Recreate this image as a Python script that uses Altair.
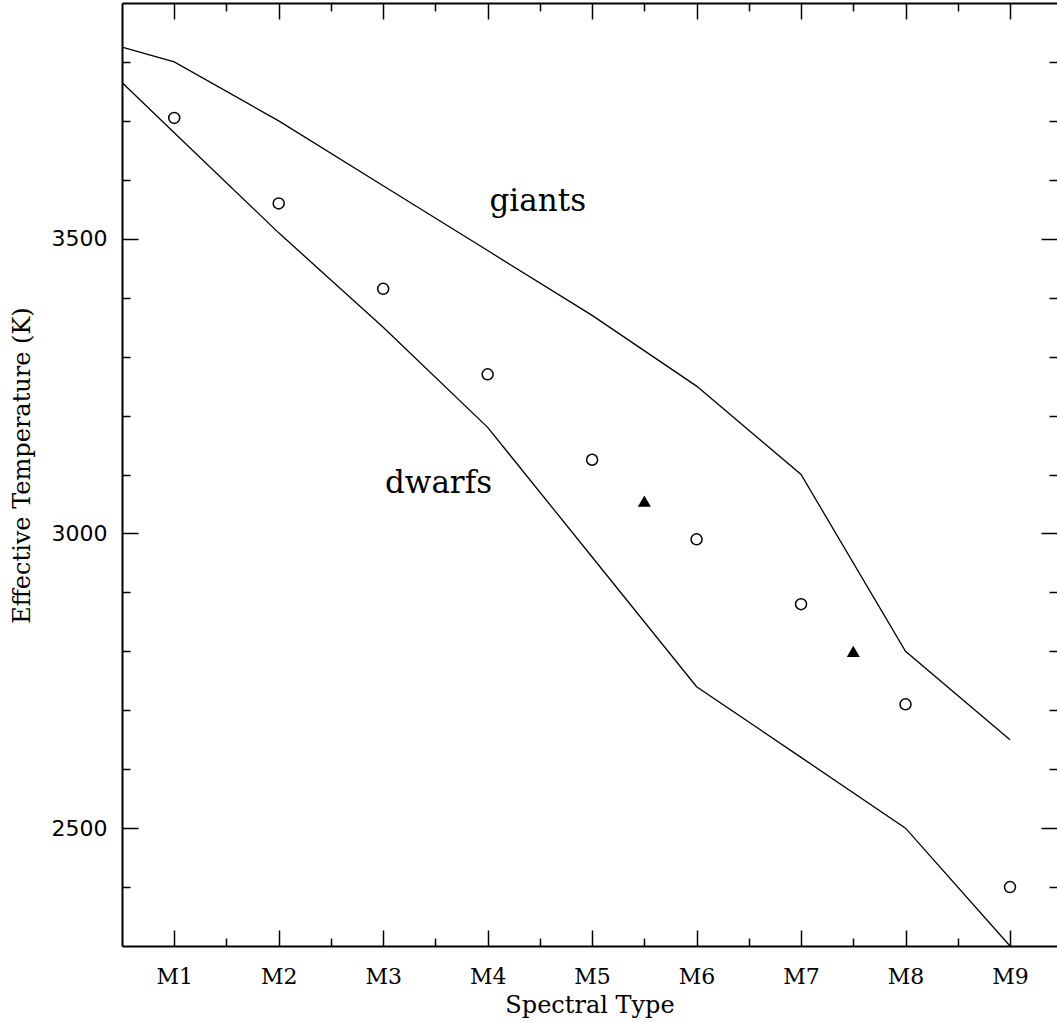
import altair as alt
import pandas as pd

# Spectral subtypes (M0.5 .. M9) along the boundary curves
curve_types = [0.5, 1, 2, 3, 4, 5, 6, 7, 8, 9]
giant_teff = [3825, 3800, 3700, 3590, 3480, 3370, 3250, 3100, 2800, 2650]
dwarf_teff = [3765, 3680, 3510, 3350, 3180, 2960, 2740, 2620, 2500, 2300]

# Measured stars (open circles)
star_types = [1, 2, 3, 4, 5, 6, 7, 8, 9]
star_teff = [3705, 3560, 3415, 3270, 3125, 2990, 2880, 2710, 2400]

# Half-subtype stars (filled triangles)
half_types = [5.5, 7.5]
half_teff = [3055, 2800]

# Region annotations
region_names = ["giants", "dwarfs"]
region_types = [4.48, 3.53]
region_teff = [3562, 3084]

# Axis tick positions
x_major = [1, 2, 3, 4, 5, 6, 7, 8, 9]
x_minor = [1.5, 2.5, 3.5, 4.5, 5.5, 6.5, 7.5, 8.5]
y_major = [2500, 3000, 3500]
y_minor = [2400, 2600, 2700, 2800, 2900, 3100, 3200, 3300, 3400, 3600, 3700, 3800]

W, H = 935, 943
xs = alt.Scale(domain=[0.5, 9.45], nice=False, zero=False)
ys = alt.Scale(domain=[2300, 3900], nice=False, zero=False)

SERIF = "DejaVu Serif"
SANS = "DejaVu Sans"


def tick_axis(orient, values, size, offset, domain=False):
    """Label-free axis used only to draw inward-pointing tick marks."""
    return alt.Axis(
        orient=orient, values=values, tickSize=size, offset=offset,
        labels=False, domain=domain, domainColor="black", domainWidth=2,
        ticks=True, tickColor="black", tickWidth=1.5, grid=False, title=None,
    )


x_label_axis = alt.Axis(
    orient="bottom", values=x_major, labelExpr="'M' + datum.value",
    ticks=False, tickSize=0, domain=True, domainColor="black", domainWidth=2,
    grid=False, labelFont=SERIF, labelFontSize=22, labelColor="black",
    labelPadding=20, labelFlush=False,
    title="Spectral Type", titleFont=SERIF, titleFontSize=24,
    titleFontWeight="normal", titleColor="black",
    titleY=66, titleBaseline="alphabetic",
)
y_label_axis = alt.Axis(
    orient="left", values=y_major, format="d",
    ticks=False, tickSize=0, domain=True, domainColor="black", domainWidth=2,
    grid=False, labelFont=SANS, labelFontSize=22, labelColor="black",
    labelPadding=15, labelFlush=False,
    title="Effective Temperature (K)", titleFont=SERIF, titleFontSize=24,
    titleFontWeight="normal", titleColor="black", titleAngle=270,
    titleX=-93, titleY=462, titleAlign="center", titleBaseline="alphabetic",
)

curves = pd.DataFrame({"spt": curve_types, "giant": giant_teff, "dwarf": dwarf_teff})
stars = pd.DataFrame({"spt": star_types, "teff": star_teff})
halves = pd.DataFrame({"spt": half_types, "teff": half_teff})
regions = pd.DataFrame({"spt": region_types, "teff": region_teff, "name": region_names})

giants_line = alt.Chart(curves).mark_line(color="black", strokeWidth=1.3).encode(
    x=alt.X("spt:Q", scale=xs, axis=x_label_axis),
    y=alt.Y("giant:Q", scale=ys, axis=y_label_axis),
)

dwarfs_line = alt.Chart(curves).mark_line(color="black", strokeWidth=1.3).encode(
    x=alt.X("spt:Q", scale=xs, axis=tick_axis("top", x_major, 16, -H)),
    y=alt.Y("dwarf:Q", scale=ys, axis=tick_axis("right", y_major, 16, -W)),
)

circles = alt.Chart(stars).mark_point(
    shape="circle", filled=False, size=121, stroke="black", strokeWidth=1.5, opacity=1
).encode(
    x=alt.X("spt:Q", scale=xs, axis=tick_axis("top", x_minor, 8, -H)),
    y=alt.Y("teff:Q", scale=ys, axis=tick_axis("right", y_minor, 8, -W)),
)

triangles = alt.Chart(halves).mark_point(
    shape="triangle-up", filled=True, size=170, color="black", opacity=1
).encode(
    x=alt.X("spt:Q", scale=xs, axis=tick_axis("bottom", x_major, 16, -H, domain=True)),
    y=alt.Y("teff:Q", scale=ys, axis=tick_axis("left", y_major, 16, -W)),
)

region_text = alt.Chart(regions).mark_text(
    font=SERIF, fontSize=31, color="black", align="center", baseline="middle"
).encode(
    x=alt.X("spt:Q", scale=xs, axis=tick_axis("bottom", x_minor, 8, -H)),
    y=alt.Y("teff:Q", scale=ys, axis=tick_axis("left", y_minor, 8, -W)),
    text="name:N",
)

chart = (
    alt.layer(giants_line, dwarfs_line, circles, triangles, region_text)
    .resolve_axis(x="independent", y="independent")
    .properties(
        width=W,
        height=H,
        autosize=alt.AutoSizeParams(type="none"),
        padding={"left": 122, "top": 3, "right": 0, "bottom": 76},
        background="white",
    )
    .configure_view(stroke=None)
)

chart.save("out.html", embed_options={"renderer": "svg", "actions": False})
